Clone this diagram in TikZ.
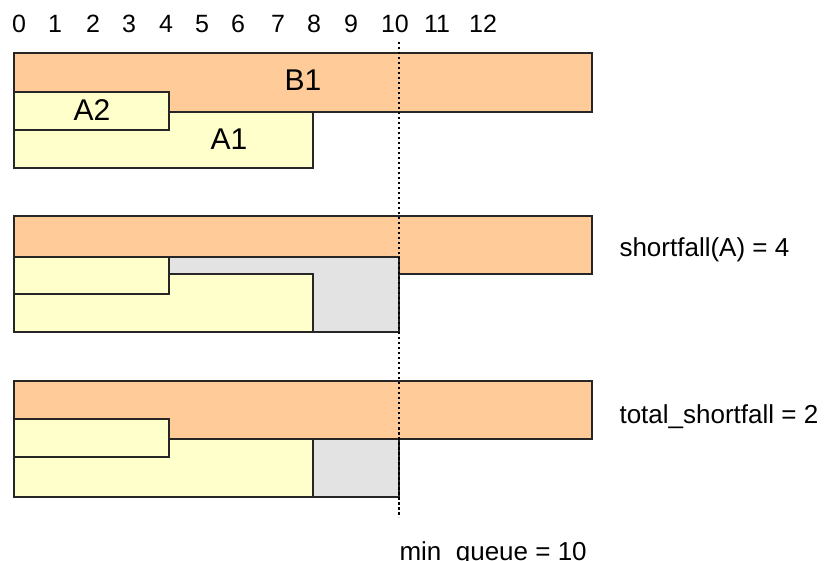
\documentclass[tikz,border=0pt]{standalone}
\usepackage{fontspec}
\setmainfont{Liberation Sans}

\definecolor{bfill}{RGB}{255,204,153}
\definecolor{afill}{RGB}{255,255,204}
\definecolor{gapfill}{RGB}{227,227,227}

\tikzstyle{bbar} = [draw=black!85, 
line width=1.6pt, 
fill=bfill]
\tikzstyle{abar} = [draw=black!85, 
line width=1.6pt, 
fill=afill]
\tikzstyle{gapbar} = [draw=black!85, 
line width=1.6pt, 
fill=gapfill]
\tikzstyle{ticklabel} = [font=\fontsize{25}{28}\selectfont, anchor=base]
\tikzstyle{barlabel} = [font=\fontsize{30}{34}\selectfont]
\tikzstyle{note} = [font=\fontsize{26}{30}\selectfont, anchor=west]
\tikzstyle{minline} = [line width=1.6pt, dash pattern=on 2.5pt off 2.5pt]

\begin{document}
\begin{tikzpicture}[x=1pt, y=-1pt]
\useasboundingbox (0,0) rectangle (825,561);

% scale
\foreach \n/\x in {0/19,1/55,2/93,3/129,4/166,5/202,6/238,7/278,8/314,9/351,10/395,11/437,12/483}
  \node (tick\n) [ticklabel] at (\x,33) {\n};

% queues
\draw [bbar] (14,53) rectangle (592,112);
\draw [abar] (14,112) rectangle (313,168);
\draw [abar] (14,92) rectangle (169,130);
\node (b1) [barlabel] at (303,80) {B1};
\node (a2) [barlabel] at (92,110) {A2};
\node (a1) [barlabel] at (229,139) {A1};

% shortfall of A
\draw [bbar] (14,216) rectangle (592,274);
\draw [gapbar] (14,257) rectangle (399,332);
\draw [abar] (14,274) rectangle (313,332);
\draw [abar] (14,257) rectangle (169,294);
\node (shortA) [note] at (616,250) {shortfall(A) = 4};

% total shortfall
\draw [bbar] (14,381) rectangle (592,439);
\draw [abar] (14,439) rectangle (313,497);
\draw [abar] (14,419) rectangle (169,457);
\draw [gapbar] (313,439) rectangle (399,497);
\node (total) [note] at (616,417) {total\_shortfall = 2};

% min_queue
\coordinate (qtop) at (399,42);
\coordinate (qbot) at (399,517);
\draw [minline] (qtop) -- (qbot);
\node (minq) [note, anchor=base west] at (396,560) {min\_queue = 10};

\end{tikzpicture}
\end{document}
